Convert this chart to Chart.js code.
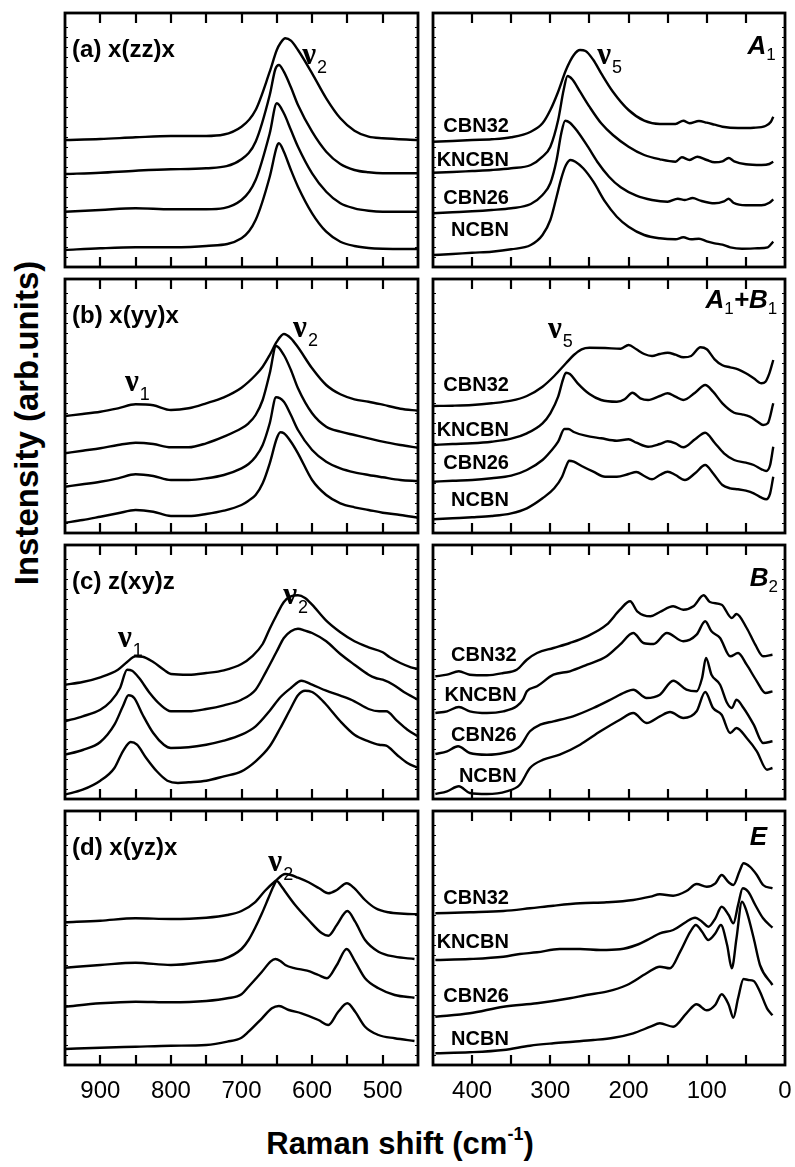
<!DOCTYPE html>
<html>
<head>
<meta charset="utf-8">
<script src="https://cdn.jsdelivr.net/npm/chart.js@4.4.1/dist/chart.umd.min.js"></script>
<style>
html, body { margin: 0; padding: 0; background: #fff; overflow: hidden; }
#fig { position: relative; width: 795px; height: 1167px; background: #fff; }
.panel { position: absolute; }
#ytitle {
  position: absolute; left: 27px; top: 423px;
  transform: translate(-50%, -50%) rotate(-90deg);
  font: bold 33px "Liberation Sans", Arial, sans-serif; white-space: nowrap;
}
#xtitle {
  position: absolute; left: 400px; top: 1144px;
  transform: translate(-50%, -50%);
  font: bold 31px "Liberation Sans", Arial, sans-serif; white-space: nowrap;
}
#xtitle sup { font-size: 18px; position: relative; top: -3px; }
</style>
</head>
<body>
<div id="fig">
  <div id="ytitle">Instensity (arb.units)</div>
  <div id="xtitle">Raman shift (cm<sup>-1</sup>)</div>
</div>
<script>
const SANS = '"Liberation Sans", Arial, sans-serif';
const SERIF = '"Liberation Serif", "Times New Roman", serif';

const samples = ['CBN32', 'KNCBN', 'CBN26', 'NCBN'];
const tickLabelsLeft = [900, 800, 700, 600, 500];
const tickLabelsRight = [400, 300, 200, 100, 0];
const geometries = ['(a) x(zz)x', '(b) x(yy)x', '(c) z(xy)z', '(d) x(yz)x'];
const symmetries = [[['A', '1']], [['A', '1'], ['+B', '1']], [['B', '2']], [['E', '']]];

// ---- (a) x(zz)x ----
const zz_CBN32 = [[950,127],[900,128],[850,129.7],[800,131],[750,131],[700,140.3],[680,157],[660,195.3],[650,217],[645,223.7],[638,228.7],[630,226.3],[620,217],[600,193.7],[580,168.7],[560,148.7],[540,136.3],[520,130.3],[500,128.7],[450,127]];
const zz_KNCBN = [[950,93],[900,94.3],[850,96.3],[800,97.7],[750,98.7],[700,107.7],[680,125.3],[660,172],[652,198],[647,202],[640,195.3],[630,179.7],[620,162],[600,135.3],[580,115.3],[560,103],[540,97],[520,94.7],[500,93.7],[450,93.7]];
const zz_CBN26 = [[950,55.3],[900,57],[850,58.7],[800,57.7],[750,57.7],[700,67],[680,87],[660,133.7],[650,163.7],[640,153.7],[630,137],[620,120.3],[600,93.7],[580,75.3],[560,63.7],[540,58.7],[520,56.3],[500,55.3],[450,55.3]];
const zz_NCBN = [[950,17],[900,18.7],[850,19.7],[800,19.7],[750,21],[700,28.7],[680,47],[660,90.3],[650,120.3],[647,123.7],[640,115.3],[630,97],[620,80.3],[600,53.7],[580,35.3],[560,25.3],[540,21],[520,19],[500,18.3],[450,18]];

const A1_CBN32 = [[450,125.3],[425,126],[400,127],[375,127.7],[350,129.7],[325,135.3],[310,143.7],[300,157],[290,175.3],[280,197],[270,212],[262,217],[255,216],[245,207],[235,193.7],[220,175.3],[200,157],[180,146.3],[160,143],[140,143],[130,146.3],[122,143.7],[110,146],[100,144.3],[90,142.3],[80,140.3],[60,139],[40,139.3],[25,141],[18,145.3],[15,150.3]];
const A1_KNCBN = [[450,94.3],[425,95],[400,96],[375,97],[350,98.7],[325,102],[310,110.3],[300,120.3],[290,147],[283,177],[278,191],[272,187.7],[262,175.3],[250,160.3],[235,143.7],[220,132],[200,120.3],[180,112],[160,107.7],[140,105.3],[132,109.7],[122,107],[112,110.3],[100,107],[90,104.7],[80,105.7],[72,109],[65,105.7],[50,102.7],[30,102],[20,103],[15,105.3]];
const A1_CBN26 = [[450,53.7],[425,54.7],[400,55.7],[375,57],[350,58.7],[325,63],[310,72],[300,83.7],[292,107],[286,133.7],[281,146.3],[275,144.3],[265,135.3],[252,120.3],[240,105.3],[225,90.3],[210,79.7],[190,71.3],[170,67],[150,65.3],[137,68.3],[128,67],[118,69],[108,66.3],[90,63.7],[78,65.7],[72,68.3],[66,64.3],[50,61.7],[30,61.7],[20,64.3],[15,67.7]];
const A1_NCBN = [[450,12],[425,13],[400,14.3],[375,15.3],[350,17.7],[325,22],[310,32],[300,47],[292,70.3],[286,88.7],[280,102],[274,107],[268,105.3],[258,98.7],[245,85.3],[230,65.3],[215,50.3],[200,40.3],[180,32],[160,28.7],[140,27.7],[130,29.7],[120,27.7],[110,28.3],[100,25.7],[90,23.7],[80,22.3],[70,19.7],[55,18.3],[35,18.7],[22,19.7],[15,25.3]];

// ---- (b) x(yy)x ----
const yy_CBN32 = [[950,117],[925,119],[900,121.3],[875,124.7],[850,128.7],[825,127.7],[800,123],[775,124.7],[750,129.7],[725,135.7],[700,145.3],[680,158],[670,166.3],[660,178],[650,191.3],[640,199],[630,194.7],[620,185.7],[600,164.7],[580,148],[560,138.7],[540,133.7],[520,131.3],[500,128.3],[475,124.3],[450,122.3]];
const yy_KNCBN = [[950,79.7],[925,82.3],[900,84.7],[875,88],[850,90.3],[825,89],[800,85.7],[775,85.7],[750,89.7],[725,96.3],[700,104.7],[690,109.7],[680,118],[670,133],[660,159.7],[651,187],[640,178],[630,163],[620,144.7],[600,119.7],[580,106.3],[560,101.3],[540,98],[520,94.7],[500,91.3],[475,88],[450,85.3]];
const yy_CBN26 = [[950,46.3],[925,48.7],[900,51.3],[875,54.7],[850,58.7],[825,57],[800,53],[775,53],[750,54.7],[725,58],[700,64.7],[690,69],[680,76.3],[670,88],[660,109.7],[651,135.7],[640,131.3],[630,118],[620,103],[600,83],[580,71.3],[560,64.7],[540,60.7],[520,58],[500,55.7],[475,53],[450,52]];
const yy_NCBN = [[950,10.3],[925,13],[900,16.3],[875,19.7],[850,23],[825,21.3],[800,17],[775,17],[750,19],[725,22.3],[700,28],[690,32.3],[680,38],[670,49.7],[660,69.7],[650,94.7],[645,100.7],[640,99.7],[630,91.3],[620,79.7],[600,53],[580,38],[560,29.7],[540,25.7],[520,23],[500,20.3],[475,18],[450,15.3]];

const AB_CBN32 = [[450,127],[425,127.3],[400,128],[375,129.7],[350,132.3],[330,137],[310,146.3],[295,157],[280,169.7],[270,178],[260,183.7],[250,185.3],[230,185],[210,184.3],[200,188],[190,183.7],[180,179],[170,177],[160,179],[150,180.3],[140,178.3],[130,175.7],[120,177],[108,185.7],[100,183.7],[90,173.7],[80,167.7],[70,165.7],[60,163.7],[50,159.7],[40,154.7],[30,149.7],[25,151.3],[20,159.7],[15,173]];
const AB_KNCBN = [[450,88],[425,89],[400,89.7],[375,91.3],[350,94.3],[330,99.7],[310,109.7],[300,119.7],[290,136.3],[284,153],[280,160.3],[275,159],[265,149.7],[250,139],[235,133],[215,131.3],[205,133.7],[195,140.3],[185,134.7],[175,133],[160,137],[150,139.7],[140,136.3],[130,133],[115,140.3],[102,148],[92,141.3],[80,129.7],[65,120.3],[55,118.7],[45,116.3],[35,111.3],[28,108],[22,109.7],[15,129.7]];
const AB_CBN26 = [[450,51.3],[425,52.3],[400,53],[375,54.7],[350,57.3],[330,63],[310,73],[300,81.3],[290,91.3],[282,104],[277,104],[270,101],[255,97.3],[235,94.7],[215,92.3],[200,93.7],[190,90.3],[175,86.3],[160,89],[150,91.7],[140,89.7],[130,85.7],[115,93.7],[102,100.3],[90,90.3],[78,79.7],[65,73],[50,70.3],[40,68],[30,63.7],[24,62],[19,68],[15,86.3]];
const AB_NCBN = [[450,13.7],[425,14.7],[400,15.7],[375,17],[350,19.7],[330,24.7],[310,34.7],[295,44.7],[285,56.3],[280,66.3],[276,72.3],[270,71.3],[260,67],[245,61.3],[230,56.3],[215,56.3],[200,59],[190,61],[180,57],[170,53.7],[160,58],[150,61.3],[140,58],[128,53],[115,59.7],[102,68],[92,59.7],[80,48],[70,44.7],[60,43.7],[50,42.3],[40,39.7],[30,35.3],[24,33.7],[19,39.7],[15,56.3]];

// ---- (c) z(xy)z ----
const xy_CBN32 = [[950,114.3],[925,117],[900,121.7],[875,129.3],[862,137],[850,142.7],[840,142.3],[825,137],[810,129.3],[800,125],[775,124.3],[750,126],[725,128.7],[700,135],[685,142.7],[670,155],[660,170.3],[650,184.3],[640,197],[630,202.7],[620,203.7],[610,201],[600,194.3],[580,178.3],[560,166.7],[540,157.7],[520,151.7],[500,146.7],[490,141.7],[475,136],[460,131.7],[450,130]];
const xy_KNCBN = [[950,77.7],[925,82.7],[900,89.3],[885,97.7],[872,111],[862,129.3],[855,128.3],[845,121],[830,106],[815,94.3],[800,87.7],[775,87.7],[750,90],[725,93.7],[700,99.3],[680,109.3],[665,127.7],[650,147.7],[640,161],[630,167.7],[620,170.3],[610,168.3],[600,166],[580,157.7],[560,145],[540,134.3],[520,124.3],[510,121],[500,119.3],[485,114.3],[470,107],[450,99.3]];
const xy_CBN26 = [[950,44.3],[925,49],[900,57],[880,74.3],[868,92.7],[860,103.7],[852,101],[840,84.3],[825,66],[810,54.3],[800,51],[775,51.7],[750,54.3],[725,58.3],[700,64.3],[680,72.7],[660,88.3],[645,101.7],[630,111],[615,118.3],[600,114.3],[580,108.3],[560,103.3],[540,97.7],[520,90],[505,87.7],[495,87.7],[480,78.3],[465,69.3],[450,62.7]];
const xy_NCBN = [[950,4.3],[925,9.3],[900,18.3],[880,31],[868,47.7],[857,57],[848,54.3],[835,41],[820,27.7],[805,18.3],[790,16],[775,16.7],[750,18.3],[725,22.7],[700,27.7],[680,37.7],[660,52.7],[645,71],[630,91],[620,103.7],[610,108.3],[600,107],[590,101.7],[580,94.3],[560,77.7],[540,64.3],[520,57.7],[505,54.3],[495,53.3],[480,44.3],[465,36],[450,31]];

const B2_CBN32 = [[447,122.7],[432,124.3],[417,127.7],[403,124.3],[381,123.7],[360,126],[343,129.3],[330,139.3],[317,146],[296,151],[275,156],[253,162.7],[228,174.3],[211,189.3],[198,197.7],[189,187.7],[172,182.7],[160,187],[143,192.7],[130,189.3],[117,192.7],[104,203.7],[96,197],[81,194.3],[68,181],[62,185],[49,171],[38,154.3],[28,142.7],[16,144.3]];
const B2_KNCBN = [[447,86],[432,87.7],[417,92],[403,87.7],[381,86],[360,87.7],[343,92.7],[335,99.3],[330,107.7],[317,112.7],[296,124.3],[275,127.7],[253,134.3],[228,142.7],[211,154.3],[194,166],[181,156],[168,155],[151,166],[130,157.7],[113,164.3],[102,177.7],[94,167.7],[83,161],[70,142.7],[60,146],[49,134.3],[36,117.7],[25,106],[16,107.7]];
const B2_CBN26 = [[447,45],[432,47.7],[418,52.7],[403,46],[381,44.3],[360,46],[339,52.7],[326,67.7],[313,74.3],[296,77.7],[271,82.7],[245,91],[219,101],[202,107.7],[194,109.3],[177,101],[160,104.3],[143,118.3],[126,109.3],[113,107.7],[106,121],[101,141],[94,124.3],[83,114.3],[74,96],[68,91],[62,99.3],[53,91],[40,74.3],[28,56],[16,57.7]];
const B2_NCBN = [[447,5],[432,7.7],[417,12.7],[403,6],[381,5],[356,7.7],[339,14.3],[326,31],[309,39.3],[288,44.3],[262,54.3],[236,67.7],[211,79.3],[194,86],[177,76],[160,82.7],[147,87],[130,81],[113,87.7],[102,107],[92,91],[81,84.3],[70,66],[62,71],[49,61],[36,47.7],[23,29.3],[16,31]];

// ---- (d) x(yz)x ----
const yz_CBN32 = [[950,142.7],[900,144.3],[850,146.7],[800,146],[750,147.3],[720,150],[700,154],[681,162.7],[667,174],[652,184],[638,191],[630,190],[620,187.3],[605,182.7],[590,176.7],[577,171.7],[565,175],[551,181.7],[540,176.7],[525,165],[510,156.7],[492,152.7],[470,151.3],[450,150.7]];
const yz_KNCBN = [[950,97.3],[900,100],[850,102.3],[800,100],[750,103.3],[725,106],[700,116],[690,125],[681,136.7],[671,151.7],[662,166.7],[655,178.3],[650,184],[644,179.3],[638,173.3],[624,160],[605,145],[586,131.7],[577,129.3],[565,140],[550,154],[539,143.3],[525,125],[506,113.3],[483,108.3],[455,106]];
const yz_CBN26 = [[950,58.3],[900,61.7],[850,63.3],[800,62.7],[750,64],[720,66.7],[700,70.7],[690,78.3],[671,93.3],[659,103.3],[652,106],[645,104],[638,100],[624,96.7],[607,94.3],[591,90],[579,86.7],[565,100],[551,116],[539,103.3],[525,86.7],[506,76.7],[483,70],[455,67.3]];
const yz_NCBN = [[950,16],[900,17.3],[850,18.3],[800,19.3],[750,20],[720,23.3],[700,27.3],[690,33.3],[671,46.7],[657,56.7],[647,59],[633,55],[615,51.7],[591,45],[577,40],[563,53.3],[550,61.7],[539,53.3],[525,38.3],[506,30],[483,26.7],[455,24]];

const E_CBN32 = [[447,151.7],[403,152.7],[360,154],[326,156.7],[296,159.3],[262,161.7],[228,162.7],[194,165],[172,168.3],[160,170.7],[143,169.3],[126,174],[113,181],[100,178.3],[89,181.7],[81,190],[72,182.7],[66,180],[58,194],[53,201.7],[45,198.3],[36,190],[28,180],[16,176.7]];
const E_KNCBN = [[447,105],[403,106],[360,108.3],[339,111],[317,112.7],[288,116],[262,116],[236,115],[211,115.7],[190,120],[172,126.7],[160,131.7],[143,135],[126,143.3],[115,147.3],[106,143.3],[98,138.3],[89,146.7],[81,158.3],[72,150],[66,141.7],[60,160],[54,176.7],[47,173.3],[38,160],[28,146.7],[16,137.3]];
const E_CBN26 = [[447,48.3],[403,51.7],[360,58.3],[317,61.7],[275,66.7],[254,70],[228,73.3],[202,80],[177,91.7],[160,98.3],[147,96.7],[134,113.3],[121,133.3],[114,140],[106,133.3],[98,125],[89,131.7],[82,140],[74,120],[68,96.7],[62,126.7],[55,163.3],[49,153.3],[40,126.7],[32,100],[16,80]];
const E_NCBN = [[447,11.7],[403,12.7],[360,15],[326,19.3],[296,21.7],[271,23.3],[245,25],[219,27.3],[194,31.7],[172,38.3],[160,41.7],[143,38.3],[126,51.7],[113,60.7],[100,54.7],[89,60.3],[81,70.7],[72,60.3],[66,47.3],[60,66.7],[53,86],[47,85],[40,84],[32,73.3],[23,56.7],[16,49.7]];

// name positions in the right panels: [x (cm-1, right edge), y for each sample]
const sampleLabelX = [353, 353, 343, 353];
const sampleLabelY = [[141, 107, 69, 37], [148, 103, 70, 33], [144, 104, 64, 23], [167, 123, 69, 26]];
const symLabelX = [12, 10, 9, 23];
const symLabelY = [220, 232, 220, 227];
// mode labels: [x (cm-1), y, subscript]
const modesLeft = [[[614, 211, '2']], [[627, 204, '2'], [865, 150, '1']], [[875, 160, '1'], [641, 203, '2']], [[662, 202, '2']]];
const modesRight = [[[240, 211, '5']], [[303, 203, '5']], [], []];

const leftCurves = [
  [zz_CBN32, zz_KNCBN, zz_CBN26, zz_NCBN],
  [yy_CBN32, yy_KNCBN, yy_CBN26, yy_NCBN],
  [xy_CBN32, xy_KNCBN, xy_CBN26, xy_NCBN],
  [yz_CBN32, yz_KNCBN, yz_CBN26, yz_NCBN]
];
const rightCurves = [
  [A1_CBN32, A1_KNCBN, A1_CBN26, A1_NCBN],
  [AB_CBN32, AB_KNCBN, AB_CBN26, AB_NCBN],
  [B2_CBN32, B2_KNCBN, B2_CBN26, B2_NCBN],
  [E_CBN32, E_KNCBN, E_CBN26, E_NCBN]
];

// frame boxes
const rowTop = [13, 279, 545, 811];
const frameH = 254;
const cols = [{ left: 65, width: 353, min: 450, max: 950, ticks: tickLabelsLeft },
              { left: 433, width: 352, min: 0, max: 450, ticks: tickLabelsRight }];
const PAD = 12, AXIS_H = 40;

// frame, inward ticks and the text inside each panel
const framePlugin = {
  id: 'frame',
  afterDraw(chart, args, o) {
    const { ctx, chartArea: a, scales: { x, y } } = chart;
    const X = v => x.getPixelForValue(v), Y = v => y.getPixelForValue(v);
    ctx.save();
    ctx.strokeStyle = '#000';
    ctx.lineWidth = 1;
    y.ticks.forEach(t => {
      if (t.value <= y.min || t.value >= y.max) return;
      const py = Math.round(Y(t.value)) + 0.5;
      ctx.beginPath();
      ctx.moveTo(a.left, py); ctx.lineTo(a.left + 3, py);
      ctx.moveTo(a.right, py); ctx.lineTo(a.right - 3, py);
      ctx.stroke();
    });
    ctx.lineWidth = 2.2;
    x.ticks.forEach(t => {
      if (t.value <= x.min || t.value >= x.max) return;
      const px = Math.round(X(t.value));
      ctx.beginPath();
      ctx.moveTo(px, a.top); ctx.lineTo(px, a.top + 10);
      ctx.moveTo(px, a.bottom); ctx.lineTo(px, a.bottom - 10);
      ctx.stroke();
    });
    ctx.lineWidth = 2.8;
    ctx.strokeRect(a.left, a.top, a.right - a.left, a.bottom - a.top);

    ctx.fillStyle = '#000';
    ctx.textBaseline = 'middle';
    if (o.title) {
      ctx.font = 'bold 24px ' + SANS;
      ctx.textAlign = 'left';
      ctx.fillText(o.title, X(940), Y(217));
    }
    if (o.sym) {
      const big = 'italic bold 26px ' + SANS, small = '17px ' + SANS;
      let w = 0;
      o.sym.forEach(([m, s]) => {
        ctx.font = big; w += ctx.measureText(m).width;
        ctx.font = small; w += ctx.measureText(s).width;
      });
      let px = X(o.symX) - w;
      const py = Y(o.symY);
      ctx.textAlign = 'left';
      o.sym.forEach(([m, s]) => {
        ctx.font = big; ctx.fillText(m, px, py); px += ctx.measureText(m).width;
        ctx.font = small; ctx.fillText(s, px, py + 8); px += ctx.measureText(s).width;
      });
    }
    if (o.names) {
      ctx.font = 'bold 20px ' + SANS;
      ctx.textAlign = 'right';
      o.names.forEach((n, i) => ctx.fillText(n, X(o.namesX), Y(o.namesY[i])));
    }
    (o.modes || []).forEach(([vx, vy, sub]) => {
      ctx.textAlign = 'left';
      ctx.font = 'bold 31px ' + SERIF;
      ctx.fillText('\u03bd', X(vx), Y(vy));
      const w = ctx.measureText('\u03bd').width;
      ctx.font = '18px ' + SANS;
      ctx.fillText(sub, X(vx) + w + 1, Y(vy) + 12);
    });
    ctx.restore();
  }
};

function makePanel(row, c) {
  const col = cols[c];
  const bottom = row === 3;
  const div = document.createElement('div');
  div.className = 'panel';
  div.style.left = (col.left - PAD) + 'px';
  div.style.top = (rowTop[row] - PAD) + 'px';
  div.style.width = (col.width + 2 * PAD) + 'px';
  div.style.height = (frameH + 2 * PAD + (bottom ? AXIS_H : 0)) + 'px';
  const canvas = document.createElement('canvas');
  div.appendChild(canvas);
  document.getElementById('fig').appendChild(div);

  const curves = c === 0 ? leftCurves[row] : rightCurves[row];
  const annot = c === 0
    ? { title: geometries[row], modes: modesLeft[row] }
    : { sym: symmetries[row], symX: symLabelX[row], symY: symLabelY[row],
        names: samples, namesX: sampleLabelX[row], namesY: sampleLabelY[row], modes: modesRight[row] };

  return new Chart(canvas, {
    type: 'line',
    data: {
      datasets: curves.map((pts, i) => ({
        label: samples[i],
        data: pts.map(([x, y]) => ({ x, y })),
        borderColor: '#000',
        borderWidth: 2.4,
        pointRadius: 0,
        fill: false,
        cubicInterpolationMode: 'monotone'
      }))
    },
    options: {
      responsive: true,
      maintainAspectRatio: false,
      animation: false,
      devicePixelRatio: 1,
      layout: { padding: PAD },
      plugins: { legend: { display: false }, tooltip: { enabled: false }, frame: annot },
      scales: {
        x: {
          type: 'linear', reverse: true, min: col.min, max: col.max,
          grid: { display: false, drawTicks: false },
          border: { display: false },
          ticks: {
            display: bottom, stepSize: 50, autoSkip: false, maxRotation: 0, padding: 12,
            color: '#000', font: { family: SANS, size: 24 },
            callback: v => col.ticks.includes(v) ? String(v) : ''
          },
          afterFit(s) {
            s.height = bottom ? AXIS_H : 0;
            s.paddingLeft = 0; s.paddingRight = 0;
          }
        },
        y: {
          min: 0, max: frameH,
          grid: { display: false, drawTicks: false },
          border: { display: false },
          ticks: { display: false, stepSize: 10 },
          afterFit(s) { s.width = 0; s.paddingTop = 0; s.paddingBottom = 0; }
        }
      }
    },
    plugins: [framePlugin]
  });
}

for (let r = 0; r < 4; r++) {
  makePanel(r, 0);
  makePanel(r, 1);
}
</script>
</body>
</html>
